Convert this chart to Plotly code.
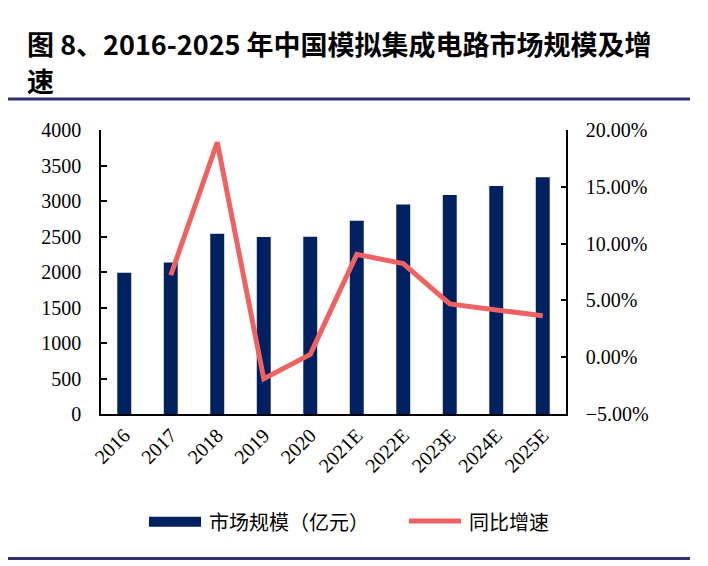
import plotly.graph_objects as go

years = ["2016", "2017", "2018", "2019", "2020", "2021E", "2022E", "2023E", "2024E", "2025E"]
market_size = [1990, 2135, 2538, 2492, 2496, 2721, 2950, 3086, 3212, 3334]
growth = [None, 0.0721, 0.1892, -0.0189, 0.0025, 0.0905, 0.0824, 0.0469, 0.0420, 0.0364]

title_line1 = "图 8、2016-2025 年中国模拟集成电路市场规模及增"
title_line2 = "速"
legend_bar = "市场规模（亿元）"
legend_line = "同比增速"

BAR_COLOR = "#002060"
LINE_COLOR = "#EF6262"
RULE_COLOR = "#30316A"
SERIF = "Liberation Serif, Times New Roman, serif"
CJK = "Noto Sans CJK SC, sans-serif"

OFF = 8  # page body margin
W, H = 708 - OFF, 566 - OFF
L, R, T, B = 101 - OFF, 566 - OFF, 130 - OFF, 414 - OFF


def px(xp):
    return (xp - OFF - L) / (R - L)


def py(yp):
    return (B - (yp - OFF)) / (B - T)


fig = go.Figure()
fig.add_trace(go.Bar(x=years, y=market_size, marker=dict(color=BAR_COLOR, line=dict(width=0)),
                     width=0.3, name=legend_bar, showlegend=False))
fig.add_trace(go.Scatter(x=years, y=growth, mode="lines", yaxis="y2",
                         line=dict(color=LINE_COLOR, width=5), name=legend_line,
                         showlegend=False, connectgaps=False))

axis_font = dict(family=SERIF, size=20, color="black")

fig.update_layout(
    width=W, height=H,
    margin=dict(l=L, r=W - R, t=T, b=H - B, pad=0),
    paper_bgcolor="white", plot_bgcolor="white",
    xaxis=dict(type="category", showline=True, linecolor="black", linewidth=1.5,
               ticks="", tickangle=-45, tickfont=axis_font, showgrid=False,
               range=[-0.5, 9.5]),
    yaxis=dict(range=[0, 4000], dtick=500, showline=True, linecolor="black", linewidth=1.5,
               ticks="inside", ticklen=6, tickcolor="black", tickwidth=1.5,
               tickfont=axis_font, showgrid=False, zeroline=False, ticklabelstandoff=14),
    yaxis2=dict(range=[-0.05, 0.20], dtick=0.05, tickformat=".2%", overlaying="y", side="right",
                showline=True, linecolor="black", linewidth=1.5,
                ticks="inside", ticklen=5, tickcolor="black", tickwidth=1.5,
                tickfont=axis_font, showgrid=False, zeroline=False, ticklabelstandoff=14),
    showlegend=False,
)

# Title
fig.add_annotation(text="<b>" + title_line1 + "</b>", xref="paper", yref="paper",
                   x=px(25), y=py(43), xanchor="left", yanchor="middle", showarrow=False,
                   font=dict(family=CJK, size=27, color="black"))
fig.add_annotation(text="<b>" + title_line2 + "</b>", xref="paper", yref="paper",
                   x=px(25), y=py(81), xanchor="left", yanchor="middle", showarrow=False,
                   font=dict(family=CJK, size=27, color="black"))

# Rules
fig.add_shape(type="line", xref="paper", yref="paper", x0=px(8), x1=px(690), y0=py(99), y1=py(99),
              line=dict(color=RULE_COLOR, width=3))
fig.add_shape(type="line", xref="paper", yref="paper", x0=px(8), x1=px(690), y0=py(558.5), y1=py(558.5),
              line=dict(color=RULE_COLOR, width=3))

# Legend
fig.add_shape(type="rect", xref="paper", yref="paper", x0=px(149), x1=px(201), y0=py(516.7), y1=py(526.7),
              fillcolor=BAR_COLOR, line=dict(width=0))
fig.add_annotation(text=legend_bar, xref="paper", yref="paper", x=px(207), y=py(521.5),
                   xanchor="left", yanchor="middle", showarrow=False,
                   font=dict(family=CJK, size=20, color="black"))
fig.add_shape(type="line", xref="paper", yref="paper", x0=px(409), x1=px(461), y0=py(521), y1=py(521),
              line=dict(color=LINE_COLOR, width=5))
fig.add_annotation(text=legend_line, xref="paper", yref="paper", x=px(467), y=py(521.5),
                   xanchor="left", yanchor="middle", showarrow=False,
                   font=dict(family=CJK, size=20, color="black"))

fig.write_html("out.html")
